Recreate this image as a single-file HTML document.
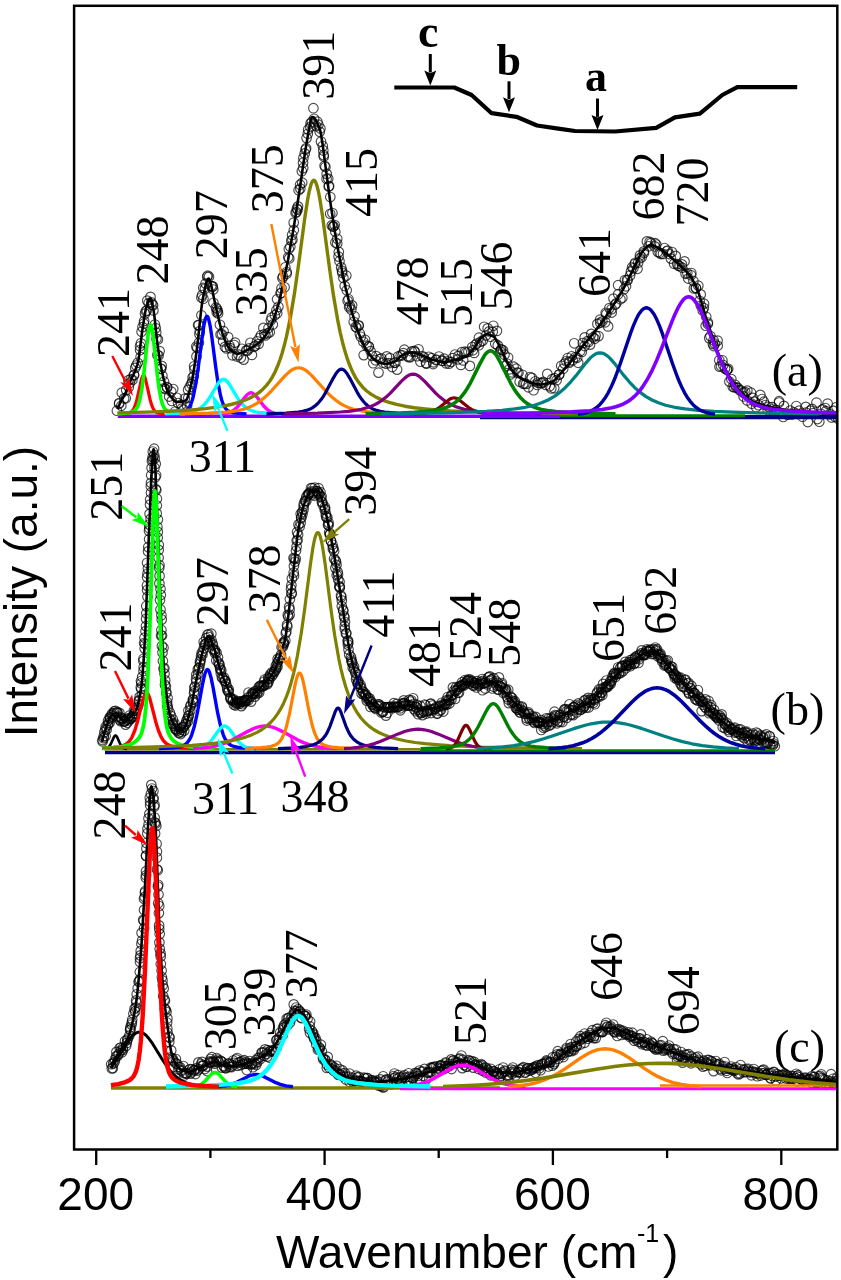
<!DOCTYPE html>
<html><head><meta charset="utf-8"><style>
html,body{margin:0;padding:0;background:#fff;}
svg{display:block;filter:blur(0.45px);}
.t{font-family:"Liberation Serif",serif;font-size:46px;fill:#000;}
.s{font-family:"Liberation Sans",sans-serif;fill:#000;}
</style></head><body>
<svg width="841" height="1280" viewBox="0 0 841 1280">
<rect width="841" height="1280" fill="#fff"/>
<defs><marker id="m" markerUnits="userSpaceOnUse" markerWidth="12" markerHeight="12" refX="6" refY="6" overflow="visible"><circle cx="6" cy="6" r="4.8" fill="none" stroke="#000" stroke-opacity="0.7" stroke-width="1.15"/></marker><clipPath id="cp"><rect x="75" y="7" width="761.5" height="1141"/></clipPath></defs>

<g clip-path="url(#cp)" fill="none" stroke-linejoin="round">
<polyline stroke="none" marker-start="url(#m)" marker-mid="url(#m)" marker-end="url(#m)" points="116.9,410.7 119.1,403.8 119.2,403.0 121.3,405.8 121.8,392.7 124.1,398.4 125.8,398.3 126.2,390.1 128.8,387.2 128.3,380.3 129.8,383.0 130.8,379.1 132.4,379.9 134.1,375.3 133.9,374.8 135.2,367.9 136.3,365.5 137.7,362.8 140.6,357.0 140.0,346.3 140.1,350.0 140.9,343.3 141.6,331.7 142.5,327.1 143.9,323.5 144.1,321.0 145.0,313.6 145.8,311.2 146.8,310.5 147.3,300.6 148.7,303.0 150.5,296.9 151.4,302.4 152.3,304.7 153.1,305.2 153.4,310.5 154.9,324.5 155.7,328.1 156.2,332.6 156.5,338.8 157.9,339.4 157.4,354.9 158.6,355.5 159.6,351.1 161.2,368.8 160.8,368.8 161.7,365.9 162.4,375.8 164.0,381.5 164.4,388.1 165.1,389.0 167.2,387.2 166.9,387.5 169.2,396.5 171.2,391.6 171.8,400.9 173.2,389.0 175.2,411.5 176.9,397.8 178.0,403.0 181.2,404.6 181.8,408.6 183.5,409.6 184.9,398.6 187.1,405.8 188.3,397.9 188.1,389.9 189.7,386.9 191.3,383.9 192.3,381.7 192.6,377.5 193.8,376.1 194.1,366.3 194.4,369.4 196.5,356.4 196.3,346.6 197.3,347.9 198.9,342.7 198.1,325.1 199.8,331.1 198.8,325.1 199.4,334.1 201.4,315.3 201.4,297.5 202.1,295.0 203.3,287.9 203.4,298.7 205.6,283.6 204.9,288.8 207.2,276.8 207.7,275.7 209.0,276.7 211.3,286.1 212.7,286.4 212.5,286.7 213.3,289.5 213.4,302.8 215.9,307.6 216.8,308.8 216.7,312.1 217.8,310.9 218.1,313.4 219.9,324.8 220.6,334.4 221.9,334.2 223.6,331.2 223.1,341.4 224.9,346.9 226.6,348.4 228.1,337.1 229.4,345.5 230.2,348.1 232.5,355.3 234.2,345.0 235.1,342.6 237.0,356.4 238.5,354.7 240.8,357.7 241.9,348.8 243.6,359.6 246.2,350.4 247.4,350.6 249.1,348.4 250.4,342.8 251.9,354.9 254.1,346.8 255.3,345.6 257.1,341.3 258.6,344.0 259.6,338.0 261.0,335.3 263.4,327.9 264.3,334.1 265.5,335.4 267.8,333.3 268.5,328.0 269.8,332.3 270.9,320.3 271.7,317.6 272.8,324.5 274.8,315.3 276.4,310.2 277.2,313.3 277.1,299.3 278.4,306.8 280.5,293.3 281.3,293.0 281.5,288.2 282.4,278.3 283.0,276.6 284.6,287.3 286.7,272.0 285.3,267.3 286.6,273.8 288.2,257.2 289.2,258.4 288.8,249.0 290.3,246.7 291.3,240.6 292.1,235.0 292.4,239.8 293.8,230.2 293.7,222.6 295.6,212.8 296.5,212.1 296.9,208.5 297.6,209.6 298.0,206.4 298.6,190.2 300.1,184.7 300.3,188.6 301.8,171.3 302.2,182.7 303.2,168.1 303.0,162.7 303.4,157.9 304.7,153.4 306.1,148.3 305.6,149.5 306.6,138.1 307.8,133.8 308.2,129.5 310.6,123.4 310.3,126.9 311.8,121.7 313.4,108.2 314.1,118.8 316.2,126.1 317.4,121.7 318.4,124.7 319.7,131.8 320.4,128.5 321.0,141.6 322.8,146.0 323.3,150.4 323.6,155.0 323.8,156.5 324.6,165.8 325.4,167.0 326.6,178.9 326.7,173.9 328.2,178.6 328.7,186.4 329.1,186.1 330.3,197.0 330.2,213.8 331.8,225.4 332.4,213.0 333.0,226.7 333.6,226.3 334.7,225.1 335.3,231.7 335.4,242.5 337.2,243.5 337.2,238.8 338.8,251.9 338.6,256.6 339.5,261.2 341.2,267.4 342.1,270.9 342.2,272.8 343.4,277.9 344.7,286.0 346.3,275.6 346.7,290.3 348.5,299.3 347.6,300.8 349.1,307.3 349.9,306.0 351.3,309.7 352.1,305.4 353.7,321.8 354.5,316.3 355.7,326.8 356.6,327.5 358.5,325.8 358.7,325.4 359.8,333.6 360.8,336.8 363.4,341.8 363.7,355.1 365.0,339.8 366.6,345.6 368.6,346.3 368.9,346.7 370.6,351.2 372.0,355.8 373.2,363.2 375.6,360.3 376.2,356.1 378.5,372.6 379.8,359.1 381.4,358.3 383.0,362.7 386.0,363.7 386.8,356.4 388.9,363.2 389.9,358.1 392.2,367.0 394.3,362.8 395.4,362.6 397.1,369.6 398.0,356.5 400.7,355.4 402.4,355.3 403.4,353.1 404.3,349.7 407.8,356.3 408.7,357.2 410.4,357.1 411.8,351.4 414.2,350.9 414.8,351.9 416.9,356.2 418.5,349.3 420.4,361.7 422.2,356.1 424.0,357.4 426.1,363.0 426.4,363.6 428.9,356.8 431.7,358.2 433.2,364.0 433.4,362.3 436.0,360.0 436.2,359.5 439.0,356.5 441.8,360.7 442.4,360.7 444.0,358.6 446.2,363.4 447.7,361.3 449.0,363.7 451.1,361.9 452.7,358.1 455.0,354.5 457.9,359.4 458.4,355.9 460.9,364.9 461.9,352.0 463.2,360.4 464.9,351.6 466.2,352.5 468.4,351.8 469.9,365.9 472.2,347.0 472.9,350.3 474.1,352.9 475.4,344.7 476.8,343.5 478.9,345.2 478.9,337.7 480.7,341.7 482.7,340.7 484.1,326.8 485.9,335.5 487.7,328.4 489.2,331.4 490.6,336.7 492.7,331.9 493.3,325.8 495.3,343.8 496.9,330.9 497.8,345.4 500.3,351.4 500.9,349.7 501.4,349.3 503.0,350.3 504.5,354.7 505.9,365.7 507.3,363.8 508.1,357.6 509.4,369.3 510.4,374.5 512.2,372.4 513.6,366.7 516.3,368.7 517.3,372.7 518.5,372.8 519.7,381.7 522.5,374.8 523.2,383.8 524.5,383.6 526.1,383.9 528.4,387.3 530.0,377.0 531.9,377.9 533.6,390.2 535.3,381.3 537.3,384.9 537.9,382.8 541.0,383.1 542.2,382.9 543.1,381.9 545.8,384.9 547.3,373.9 549.7,386.3 551.3,388.4 552.2,379.1 554.2,388.2 554.7,378.2 556.6,380.2 559.1,374.6 559.2,374.5 561.2,365.8 563.2,368.8 564.6,363.6 566.2,361.3 567.7,358.0 569.3,362.7 569.3,361.5 571.7,356.3 572.7,360.2 574.2,343.3 575.5,357.1 577.2,357.8 578.2,362.8 580.3,350.9 581.8,351.9 582.8,343.0 584.7,346.0 584.7,337.4 587.3,341.2 588.7,342.0 590.1,344.6 591.2,333.9 593.1,337.3 594.7,338.8 595.5,335.6 597.4,323.9 598.5,336.1 600.3,322.7 600.2,319.6 602.4,321.3 605.3,322.3 605.7,312.8 606.4,314.0 608.1,326.4 609.4,308.1 611.6,309.1 611.7,312.5 613.5,298.6 615.2,304.7 616.2,303.4 618.2,294.2 618.1,285.2 620.4,299.3 622.3,297.7 624.0,289.3 624.9,280.0 626.0,286.3 627.0,280.0 627.7,280.2 630.1,275.4 631.0,271.4 632.1,267.3 633.4,268.3 634.7,264.0 635.2,262.8 637.5,268.8 638.1,262.7 639.9,258.2 640.0,255.4 641.7,257.2 644.0,253.0 643.8,251.4 646.9,241.4 648.6,246.3 649.7,241.9 651.0,243.1 654.8,246.4 655.1,243.2 656.3,244.5 657.8,251.9 659.7,252.8 660.8,254.0 663.0,253.9 664.5,248.0 666.7,251.3 667.6,250.5 669.3,254.0 670.9,258.6 672.0,252.0 674.1,263.8 675.7,255.9 677.2,264.1 678.5,265.7 679.7,266.2 681.9,264.4 682.2,267.7 684.5,261.4 685.6,273.8 687.3,273.1 688.2,278.5 691.1,275.3 691.3,273.0 693.4,281.0 693.9,288.4 695.9,288.3 695.9,287.8 698.3,285.7 699.6,300.8 700.7,294.4 700.8,305.5 702.7,310.4 703.8,308.0 704.0,303.7 705.7,325.7 706.2,316.8 707.8,324.0 707.9,322.5 709.2,338.1 710.4,336.1 712.9,344.0 713.7,346.0 713.5,340.3 714.8,343.7 717.6,340.6 717.7,345.8 719.3,360.2 719.5,366.7 721.0,366.0 722.4,360.3 723.3,365.0 725.0,368.6 727.1,369.6 727.0,369.7 728.2,368.8 729.4,381.6 731.3,379.0 732.8,386.7 734.3,387.4 735.1,384.8 736.4,387.4 737.8,387.9 739.6,390.2 741.0,390.5 743.3,392.6 743.6,396.4 745.2,392.1 747.3,390.6 747.2,400.5 751.0,392.7 751.7,403.7 752.8,397.9 754.8,401.7 756.1,407.3 758.7,405.2 760.3,394.9 762.1,399.0 763.9,401.7 765.4,405.0 767.7,409.9 768.6,406.8 771.6,409.5 772.2,407.1 774.2,412.3 776.1,410.1 779.0,402.5 779.1,401.2 780.6,413.2 783.2,416.9 783.9,405.9 787.3,414.7 788.8,414.2 790.2,410.5 792.0,414.5 793.7,412.4 796.3,406.0 797.0,413.8 799.0,410.7 802.0,413.5 802.5,416.7 805.8,406.9 806.0,412.6 807.8,422.0 810.2,410.6 812.0,408.9 813.2,413.1 816.5,402.6 817.4,419.0 819.3,421.7 821.0,413.8 822.5,409.4 825.2,408.0 826.1,411.1 827.6,403.6 829.6,414.3 831.6,417.5 833.3,410.9 835.3,416.9 836.5,407.1 838.2,418.7"/>
<path d="M117.5 409.0 120.5 402.0 124.7 394.6 126.3 391.3 130.9 379.6 133.9 373.6 135.3 370.3 137.3 364.6 138.3 360.6 139.1 355.9 142.3 330.4 145.1 312.8 146.1 308.1 147.7 302.7 148.7 300.0 149.7 298.6 150.1 298.5 150.5 298.8 151.3 300.6 152.3 304.4 153.7 311.0 154.7 318.6 156.9 339.7 158.5 351.5 160.7 365.1 163.5 378.7 166.3 387.7 167.7 391.3 168.9 393.8 170.1 395.7 173.1 399.5 174.7 401.0 176.3 401.9 178.3 402.0 181.3 401.7 184.5 400.9 186.1 400.3 186.9 399.1 187.7 397.2 189.9 389.7 192.5 378.6 195.3 360.8 197.7 342.9 200.9 312.3 202.3 301.3 205.7 284.8 206.9 280.8 207.5 279.5 208.1 278.8 208.7 278.6 209.5 279.6 210.9 283.7 215.1 303.6 220.1 325.0 222.1 332.4 224.5 339.1 226.5 344.0 228.3 347.5 229.9 349.5 233.5 352.3 234.9 353.1 236.3 353.6 237.5 353.8 238.9 353.6 242.3 352.5 250.9 348.2 253.9 346.4 256.9 344.2 259.7 341.9 262.3 339.3 264.7 336.5 266.9 333.4 268.9 330.1 271.1 325.5 273.3 320.0 275.7 313.1 279.1 301.8 282.9 285.1 288.1 259.4 293.5 229.1 300.1 186.8 304.9 153.1 308.9 129.4 310.9 119.9 311.7 117.8 312.1 117.2 312.5 117.0 313.5 117.3 314.5 118.2 316.5 121.3 319.5 128.6 320.3 131.0 320.9 133.6 322.5 143.7 329.9 199.3 334.7 230.7 337.9 248.9 343.1 276.0 345.5 287.2 348.5 299.4 352.7 314.7 355.7 324.7 359.1 334.3 362.3 342.2 364.9 347.3 369.9 355.0 373.1 358.6 374.5 359.7 376.1 360.6 379.9 362.6 383.1 363.6 386.1 363.7 389.7 363.2 393.1 362.2 395.7 361.1 396.9 360.1 399.9 356.7 401.5 355.6 404.9 354.0 407.5 353.1 409.9 352.6 412.1 352.4 414.3 352.6 416.7 353.3 424.3 356.2 431.7 359.4 438.5 361.3 441.5 361.9 444.1 362.1 446.7 361.9 449.7 361.3 461.5 358.3 464.7 357.1 466.9 355.9 469.9 353.2 474.3 348.1 478.9 340.6 480.3 338.8 483.1 336.2 484.9 334.9 486.3 334.3 487.9 334.3 490.3 334.9 493.1 336.2 494.1 336.9 495.3 338.3 497.7 342.5 503.5 354.4 507.5 363.1 509.5 366.8 511.1 369.2 513.5 372.0 515.7 374.3 518.1 376.3 522.5 379.2 526.7 381.3 529.7 382.4 536.5 384.1 539.9 384.5 543.3 384.3 547.1 383.6 551.5 382.3 553.3 381.2 555.3 379.4 566.7 366.7 572.7 359.2 581.7 347.1 592.5 334.5 601.1 323.2 606.1 316.2 611.3 308.3 618.1 297.6 622.9 289.6 627.3 281.4 639.5 256.4 641.5 252.8 642.5 251.4 644.7 249.0 647.5 246.4 649.5 245.2 650.5 245.0 651.5 245.0 654.1 245.7 657.3 247.4 663.1 251.0 668.5 255.2 676.7 262.2 685.5 270.7 689.1 274.7 691.9 278.6 695.3 285.0 698.7 293.2 700.5 298.9 704.7 313.6 709.7 329.0 717.1 350.4 721.3 360.8 724.3 367.2 727.1 372.7 733.1 382.7 735.7 386.4 738.1 389.5 744.1 395.5 746.9 397.9 749.5 399.7 752.5 401.3 756.3 402.9 760.3 404.4 764.9 405.8 776.3 408.4 787.1 410.1 800.9 411.6 823.3 413.3 839.9 414.0" stroke="#000" stroke-width="2.6"/>
<path d="M480.0 418.0H840.0" stroke="#000080" stroke-width="2.5"/>
<path d="M117.8 416.3H560.0" stroke="#8000FF" stroke-width="3.5"/>
<path d="M560.0 415.8H745.0" stroke="#008000" stroke-width="3.0"/>
<path d="M745.0 416.3H840.0" stroke="#000080" stroke-width="2.5"/>
<path d="M122.5 414.0 127.1 413.5 129.9 412.7 131.9 411.4 133.7 408.9 135.3 405.2 136.7 400.5 141.5 379.1 142.5 376.3 143.1 375.5 143.5 375.3 143.9 375.5 144.5 376.3 145.5 379.1 150.3 400.5 151.7 405.2 153.3 408.9 155.1 411.4 157.1 412.7 159.9 413.5 164.5 414.0" stroke="#FF0000" stroke-width="3.2"/>
<path d="M117.5 413.9 127.1 413.0 130.3 412.4 132.7 411.6 134.5 410.6 135.9 409.2 137.1 407.4 138.3 404.7 140.1 398.4 141.9 388.5 143.7 374.7 148.1 334.4 149.3 327.3 149.9 325.4 150.5 324.8 151.1 325.4 151.7 327.3 152.9 334.4 157.3 374.7 159.1 388.5 160.9 398.4 161.9 402.3 162.9 405.2 164.1 407.7 165.3 409.4 166.9 410.8 168.7 411.8 171.3 412.5 174.7 413.1 184.9 413.9" stroke="#00FF00" stroke-width="3.6"/>
<path d="M167.5 413.9 178.7 413.1 181.9 412.6 184.3 411.8 186.3 410.7 188.1 408.9 189.5 406.9 190.9 404.0 192.3 400.0 193.5 395.5 195.9 383.4 198.1 368.5 202.3 336.0 204.1 324.5 204.9 320.7 205.7 318.0 206.5 316.6 207.1 316.3 207.7 316.8 208.5 318.6 210.1 325.6 211.7 336.0 215.9 368.5 218.1 383.4 220.5 395.5 221.7 400.0 223.1 404.0 224.5 406.9 225.9 408.9 227.7 410.7 229.7 411.8 232.1 412.6 235.3 413.1 246.5 413.9" stroke="#0000FF" stroke-width="3.4"/>
<path d="M165.5 413.9 179.3 413.3 188.1 412.4 191.5 411.8 194.3 411.0 196.9 410.0 199.1 408.8 201.1 407.4 203.1 405.7 205.1 403.7 207.1 401.2 210.1 396.9 216.7 385.8 219.3 382.0 221.5 379.9 222.5 379.5 223.5 379.3 224.5 379.5 225.5 379.9 227.7 382.0 230.3 385.8 236.9 396.9 239.9 401.2 241.9 403.7 243.9 405.7 245.9 407.4 247.9 408.8 250.1 410.0 252.7 411.0 255.5 411.8 258.9 412.4 267.7 413.3 281.5 413.9" stroke="#00FFFF" stroke-width="3.4"/>
<path d="M222.0 414.1 225.8 413.6 228.8 412.9 231.4 411.8 233.8 410.3 236.0 408.4 238.2 406.0 244.6 397.6 246.6 395.3 248.8 393.5 250.0 392.9 251.0 392.8 252.0 392.9 253.2 393.5 255.4 395.3 257.4 397.6 263.8 406.0 266.0 408.4 268.2 410.3 270.6 411.8 273.2 412.9 276.2 413.6 280.0 414.1" stroke="#FF00FF" stroke-width="3.4"/>
<path d="M179.5 413.8 208.7 413.2 226.3 412.2 232.9 411.4 238.5 410.5 243.5 409.3 248.1 407.7 252.3 405.9 256.5 403.6 260.5 400.8 264.5 397.6 267.9 394.4 271.5 390.8 284.7 376.1 289.5 371.6 291.9 369.9 294.1 368.8 296.3 368.0 298.5 367.8 300.7 368.0 302.9 368.8 305.1 369.9 307.5 371.6 312.3 376.1 325.5 390.8 329.1 394.4 332.5 397.6 336.5 400.8 340.5 403.6 344.7 405.9 348.9 407.7 353.5 409.3 358.5 410.5 364.1 411.4 370.7 412.2 388.3 413.2 417.5 413.8" stroke="#FF8000" stroke-width="3.2"/>
<path d="M117.5 412.9 154.7 411.9 183.3 410.5 195.1 409.6 205.5 408.6 214.9 407.4 223.3 406.1 230.9 404.5 237.9 402.6 244.1 400.5 249.5 398.2 254.5 395.5 258.9 392.6 262.9 389.2 266.5 385.4 269.5 381.5 272.3 377.1 274.9 372.2 277.5 366.3 279.9 360.0 282.1 353.2 284.3 345.3 286.5 336.4 290.5 316.9 294.3 294.4 297.9 269.6 304.9 217.3 307.7 199.2 309.3 191.0 310.9 184.8 311.7 182.7 312.5 181.2 313.3 180.4 313.9 180.3 314.5 180.6 315.3 181.5 316.7 184.8 318.3 191.0 319.9 199.2 322.7 217.3 329.9 271.0 333.7 296.9 338.1 322.2 340.3 332.8 342.5 342.2 344.9 351.1 347.5 359.4 350.1 366.3 352.9 372.6 355.9 378.1 359.1 382.9 362.7 387.2 366.7 391.0 371.3 394.4 376.5 397.4 382.5 400.1 389.1 402.4 396.5 404.4 404.9 406.2 414.3 407.7 425.1 408.9 436.9 410.0 450.5 410.9 483.9 412.2 528.5 413.2 589.9 413.8" stroke="#808000" stroke-width="3.4"/>
<path d="M266.5 413.9 285.9 413.1 298.3 412.1 302.7 411.4 306.3 410.4 309.5 409.3 312.3 407.8 314.7 406.2 316.9 404.3 319.1 402.0 321.1 399.6 323.5 396.1 325.9 392.1 333.3 378.1 335.9 373.7 337.5 371.6 338.9 370.2 340.3 369.3 341.5 369.1 342.7 369.3 344.1 370.2 345.5 371.6 347.1 373.7 349.7 378.1 357.1 392.1 359.5 396.1 361.9 399.6 363.9 402.0 366.1 404.3 368.3 406.2 370.7 407.8 373.5 409.3 376.7 410.4 380.3 411.4 384.7 412.1 397.1 413.1 416.5 413.9" stroke="#000080" stroke-width="3.2"/>
<path d="M284.5 413.8 317.5 413.1 340.3 412.0 348.5 411.3 355.5 410.3 361.5 409.2 366.7 407.8 370.9 406.4 374.9 404.6 378.7 402.5 382.3 400.1 386.1 397.1 390.1 393.4 401.5 381.2 405.3 377.6 407.3 376.1 409.3 375.0 411.3 374.3 413.1 374.1 414.9 374.3 416.9 375.1 418.9 376.2 420.9 377.8 424.5 381.2 435.9 393.4 439.9 397.1 443.7 400.1 447.3 402.5 451.1 404.6 455.1 406.4 459.3 407.8 464.5 409.2 470.5 410.3 477.5 411.3 485.7 412.0 508.5 413.1 541.5 413.8" stroke="#800080" stroke-width="3.2"/>
<path d="M415.0 413.9 421.2 413.5 425.8 413.0 429.8 412.1 433.2 411.0 436.4 409.4 439.4 407.5 449.6 399.3 451.8 398.2 454.0 397.8 456.2 398.2 458.4 399.3 468.6 407.5 471.6 409.4 474.8 411.0 478.2 412.1 482.2 413.0 486.8 413.5 493.0 413.9" stroke="#800000" stroke-width="3.2"/>
<path d="M365.5 413.8 401.3 413.0 414.5 412.3 425.1 411.5 433.3 410.5 439.7 409.4 445.1 407.8 449.9 405.8 453.7 403.6 457.3 400.8 460.7 397.4 463.9 393.4 467.1 388.7 470.5 382.8 480.5 362.6 483.7 356.8 485.5 354.1 487.3 352.2 488.9 351.2 490.5 350.8 492.1 351.2 493.7 352.2 495.5 354.1 497.3 356.8 500.5 362.6 510.5 382.8 513.9 388.7 517.1 393.4 520.3 397.4 523.7 400.8 527.3 403.6 531.1 405.8 535.9 407.8 541.3 409.4 547.7 410.5 555.9 411.5 566.5 412.3 579.7 413.0 615.5 413.8" stroke="#008000" stroke-width="3.6"/>
<path d="M381.0 413.8 444.2 412.9 467.2 412.2 486.2 411.4 502.0 410.3 514.8 408.9 525.4 407.3 534.4 405.2 541.6 402.8 548.0 400.0 554.0 396.6 559.8 392.4 565.2 387.7 570.8 381.8 575.8 375.9 585.8 363.1 590.4 357.9 593.0 355.6 595.4 354.1 597.8 353.1 600.0 352.8 602.2 353.1 604.6 354.1 607.0 355.6 609.6 357.9 614.2 363.1 624.2 375.9 629.2 381.8 634.8 387.7 640.2 392.4 646.0 396.6 652.0 400.0 658.4 402.8 665.6 405.2 674.6 407.3 685.2 408.9 698.0 410.3 713.8 411.4 732.8 412.2 755.8 412.9 819.0 413.8" stroke="#008080" stroke-width="3.2"/>
<path d="M578.0 414.1 582.8 413.5 586.8 412.5 590.4 411.2 593.8 409.5 597.0 407.2 600.0 404.4 602.8 401.1 605.6 397.2 608.2 392.8 610.6 388.1 613.0 382.8 615.6 376.5 620.2 363.9 630.6 333.1 633.4 325.7 635.8 320.1 638.6 314.6 641.2 310.9 642.6 309.5 643.8 308.6 645.2 308.0 646.4 307.8 647.6 308.0 649.0 308.6 650.2 309.5 651.6 310.9 654.2 314.6 657.0 320.1 659.4 325.7 662.2 333.1 672.6 363.9 677.2 376.5 679.8 382.8 682.2 388.1 684.6 392.8 687.2 397.2 690.0 401.1 692.8 404.4 695.8 407.2 699.0 409.5 702.4 411.2 706.0 412.5 710.2 413.5 715.0 414.1" stroke="#0000A0" stroke-width="3.4"/>
<path d="M482.0 413.8 519.2 413.4 548.4 412.7 571.6 411.9 589.6 410.8 602.2 409.5 611.8 407.8 615.8 406.8 619.6 405.5 623.0 404.1 626.2 402.4 629.0 400.7 631.8 398.6 634.4 396.4 637.0 393.8 639.6 390.8 642.0 387.7 646.8 380.3 651.6 371.4 656.6 360.5 661.6 348.3 672.2 320.9 675.0 314.2 677.6 308.7 680.6 303.3 683.4 299.6 684.8 298.3 686.0 297.5 687.4 297.0 688.6 296.8 689.8 297.0 691.2 297.5 692.6 298.5 694.0 299.9 696.8 303.7 699.8 309.1 702.2 314.2 705.0 320.9 715.4 347.8 720.0 359.1 724.6 369.4 729.2 378.2 733.2 384.8 737.4 390.5 741.6 395.2 746.0 399.1 748.6 400.9 751.4 402.6 754.4 404.2 757.6 405.5 764.6 407.6 773.2 409.2 784.2 410.5 798.6 411.5 817.2 412.4 840.0 413.0" stroke="#8000FF" stroke-width="3.6"/>
<polyline stroke="none" marker-start="url(#m)" marker-mid="url(#m)" marker-end="url(#m)" points="102.5,740.0 102.6,741.4 103.8,736.1 103.6,738.1 105.6,736.2 104.4,732.1 105.4,729.2 105.8,726.6 106.7,729.4 107.7,724.9 108.0,720.8 108.4,723.1 109.6,723.0 110.0,717.6 109.7,717.4 110.3,718.9 111.6,715.2 111.9,713.7 112.9,716.4 114.2,711.3 113.9,713.2 115.4,710.9 116.6,712.6 117.2,712.1 117.5,713.1 117.7,716.5 119.4,712.9 119.9,719.9 120.6,721.1 121.1,719.1 121.3,717.8 121.8,718.2 123.6,721.4 124.8,720.9 124.5,721.7 125.6,724.6 127.4,722.8 126.6,719.5 128.0,718.4 128.9,720.4 129.7,718.6 129.6,715.5 130.6,719.0 132.2,717.5 132.3,716.2 133.2,716.8 133.9,710.5 134.7,713.6 134.7,713.0 135.7,710.8 135.4,709.9 137.2,708.1 136.7,707.3 138.5,704.6 138.9,701.2 138.9,700.4 139.6,696.9 141.9,695.1 140.8,687.4 141.3,688.9 141.3,683.3 141.0,681.1 142.2,676.9 143.5,670.9 143.7,667.1 143.4,661.0 143.5,658.8 144.7,648.6 145.0,644.2 144.1,643.0 144.5,637.7 145.5,631.2 146.0,626.1 146.1,618.8 146.3,613.2 146.3,606.1 147.5,596.8 147.1,590.0 147.0,585.6 147.1,577.3 147.5,573.5 147.9,568.6 147.1,562.8 148.1,551.4 148.3,547.1 149.1,539.2 149.0,530.9 149.3,528.3 149.2,524.6 150.6,518.9 149.6,513.9 150.0,504.6 150.2,499.5 151.0,492.8 150.8,486.3 151.0,482.8 151.2,475.2 151.6,467.9 151.9,461.0 152.6,459.5 152.6,457.1 152.8,451.5 154.1,448.7 154.2,455.2 154.7,458.4 155.7,463.9 154.5,467.7 156.1,475.3 155.4,477.3 156.3,490.2 155.8,489.1 156.9,498.7 156.8,505.5 156.7,513.4 157.9,519.5 157.4,527.0 157.8,531.9 157.7,537.7 158.8,545.1 158.7,549.9 158.6,557.7 159.5,565.2 159.2,567.9 159.6,575.9 159.4,583.4 160.5,589.0 160.8,594.9 160.0,600.1 160.5,609.6 161.4,615.2 161.7,619.6 161.4,630.1 162.0,635.5 161.1,635.6 161.9,646.0 163.5,647.8 162.5,652.6 162.9,661.0 163.5,668.6 164.4,668.2 164.5,673.7 165.2,680.4 165.0,684.7 165.9,686.6 166.2,692.1 166.3,693.2 167.6,698.1 167.1,702.3 167.2,704.9 167.7,707.0 168.1,709.3 169.9,712.8 169.5,718.7 170.4,720.0 171.0,715.9 172.9,719.6 173.0,724.3 172.6,723.4 173.6,725.7 174.5,723.3 175.2,728.5 175.7,729.4 176.2,729.4 177.4,730.8 178.6,732.9 179.1,732.4 179.5,728.5 180.7,734.0 181.1,729.8 181.7,732.2 182.6,727.5 183.1,727.4 183.8,726.6 184.2,730.6 185.8,723.5 185.5,724.4 186.4,720.9 187.6,718.6 188.1,721.1 188.2,716.2 188.9,715.6 188.4,710.6 190.3,710.6 190.4,706.6 190.8,704.8 193.0,701.6 193.0,702.6 192.9,699.5 193.1,699.5 194.1,693.4 194.3,691.2 194.3,687.5 195.0,686.6 196.1,679.1 196.3,681.8 196.3,674.8 198.0,674.2 197.8,669.5 198.7,668.2 199.3,667.5 200.0,663.5 200.0,661.6 200.8,659.4 201.1,656.2 201.6,653.3 202.5,654.5 202.8,651.2 203.8,648.2 204.6,644.7 205.1,644.2 203.7,642.1 206.3,643.3 206.2,638.0 207.5,634.7 208.7,637.1 208.5,634.3 209.3,642.1 211.3,633.7 210.0,641.2 211.5,640.2 212.4,643.3 212.9,645.2 212.8,648.9 213.8,650.2 214.9,649.8 215.3,651.5 214.9,653.1 216.6,652.9 216.3,660.4 218.0,657.5 218.4,662.6 219.3,664.1 219.3,665.1 220.1,668.1 220.3,669.5 220.8,673.2 221.3,670.6 221.9,677.4 222.8,678.2 224.0,677.6 224.7,681.3 224.9,680.5 225.6,681.0 226.1,683.9 227.1,687.2 227.2,689.7 228.8,689.6 228.5,691.9 228.3,691.1 230.4,697.5 230.4,697.9 232.6,699.9 230.9,699.6 232.8,700.8 233.3,699.1 233.9,704.7 235.1,702.3 235.6,705.5 236.4,703.9 236.6,702.5 237.4,702.9 237.6,701.1 239.6,701.6 239.3,703.6 241.4,706.1 241.2,701.5 241.9,701.6 242.6,704.2 243.1,701.4 244.3,702.4 244.8,700.4 245.3,699.9 246.8,700.3 245.7,701.3 247.9,697.6 248.5,692.6 248.5,700.3 251.1,701.6 250.4,696.7 251.8,693.6 253.0,694.0 253.0,692.6 253.7,694.2 254.8,691.3 254.9,696.6 255.1,693.1 256.6,690.7 256.9,693.9 258.3,691.5 258.6,687.5 259.2,692.6 260.4,685.6 259.5,686.3 261.3,685.8 261.8,686.9 263.1,685.9 264.0,681.8 264.3,684.8 264.0,685.7 264.7,679.5 267.5,684.2 267.0,683.5 268.1,677.7 268.5,681.9 268.9,678.5 269.4,679.1 270.1,675.6 270.4,674.1 271.9,676.1 272.3,672.1 273.3,673.9 274.5,671.0 274.3,671.9 275.9,669.4 275.8,666.0 276.3,668.0 277.5,666.7 276.8,664.4 277.8,662.1 277.7,658.9 279.0,659.7 280.1,657.8 280.4,657.1 281.0,654.9 281.6,647.3 282.9,646.8 283.1,643.3 283.6,644.5 284.0,643.2 283.8,642.0 285.3,640.6 285.8,633.3 286.3,631.7 287.3,626.8 287.0,624.9 288.3,616.6 287.8,614.9 289.6,614.8 289.6,609.4 289.1,606.9 289.9,599.2 291.5,593.9 291.7,593.1 291.0,588.9 291.4,585.2 291.9,578.6 294.0,575.8 293.7,572.6 293.9,566.1 293.5,558.1 295.0,561.8 294.4,558.6 295.7,558.8 296.0,550.8 296.6,546.6 296.7,540.5 297.6,540.2 297.1,532.1 298.1,534.7 298.5,524.6 299.6,526.8 300.6,522.9 301.2,518.3 301.2,517.3 300.7,513.9 302.5,514.3 302.2,512.1 303.5,509.5 303.7,506.3 303.8,503.9 304.9,500.8 305.4,501.0 306.3,501.2 306.3,496.7 307.6,495.3 308.3,493.9 309.3,493.2 308.9,494.2 311.0,488.1 310.8,491.7 312.2,494.4 312.3,488.0 313.5,493.0 314.1,491.0 314.2,495.6 314.8,487.5 316.6,491.1 317.2,491.2 318.5,493.3 318.1,492.7 318.5,488.1 320.4,492.0 319.3,494.5 320.7,497.3 321.6,496.6 321.8,501.7 322.3,502.4 322.9,504.9 324.9,507.1 325.2,509.0 324.7,509.8 325.8,513.5 326.0,516.2 326.5,517.5 327.4,517.6 328.5,522.6 328.6,525.1 328.0,524.9 329.2,532.5 329.9,534.4 330.2,534.2 331.0,540.9 331.0,541.3 332.5,544.7 332.8,548.8 333.4,548.0 334.1,551.3 334.1,558.8 336.0,561.7 335.5,560.2 335.4,568.1 336.5,564.9 337.6,571.9 338.0,574.5 336.7,575.3 338.2,579.5 339.6,581.7 339.3,586.1 339.8,587.3 339.7,587.5 341.0,595.5 341.4,597.0 341.8,600.4 341.8,606.3 343.1,609.9 343.3,611.1 344.5,617.5 344.0,616.0 345.0,622.0 344.8,629.2 344.7,626.2 346.4,633.2 345.9,633.6 348.0,640.5 347.7,640.9 347.9,644.6 348.3,642.7 348.5,649.6 349.2,654.6 351.0,657.0 351.3,659.6 351.6,661.3 352.3,663.3 352.1,662.6 352.7,667.8 354.1,666.7 353.9,669.2 355.4,672.2 355.5,672.9 356.1,679.4 356.5,677.2 358.3,681.0 357.5,683.5 358.1,684.0 358.1,682.4 360.5,684.7 360.3,687.4 361.3,687.7 361.6,693.6 363.4,691.9 362.7,691.5 363.8,694.7 365.4,693.9 365.3,695.2 365.9,695.8 366.7,700.6 367.1,698.6 368.0,697.6 369.6,698.4 369.2,700.1 370.8,701.6 370.5,706.9 371.4,702.1 372.3,704.6 372.6,704.3 373.6,706.7 374.9,707.4 375.2,707.8 375.9,708.9 377.0,706.1 378.1,704.3 377.8,706.1 378.9,705.5 379.1,704.4 380.6,706.0 382.4,710.8 381.4,712.5 382.8,711.8 382.9,712.0 384.8,707.2 384.6,707.3 385.9,715.6 387.4,712.8 387.1,707.2 388.2,707.3 388.5,707.4 389.9,707.7 390.4,707.0 390.9,706.7 392.4,708.3 393.3,707.0 393.8,703.2 393.8,707.1 394.4,706.8 395.0,706.6 395.9,707.0 396.9,703.9 397.5,706.9 397.9,706.9 399.9,705.8 400.3,708.3 400.4,710.3 402.8,703.1 403.3,703.9 403.7,700.4 404.3,706.2 403.9,703.2 404.7,702.9 406.2,705.0 405.5,704.5 407.7,705.7 409.1,699.9 409.1,705.5 410.1,701.5 409.8,705.1 411.3,700.3 412.2,705.9 413.1,698.3 413.8,703.8 414.0,709.1 415.9,707.4 415.7,711.2 416.1,707.1 417.0,704.9 418.1,714.2 418.9,709.8 419.5,711.9 420.3,706.1 421.1,713.2 421.7,712.6 422.5,715.1 423.4,711.0 423.9,711.5 424.6,704.5 425.7,705.3 427.0,711.3 427.0,711.0 426.4,713.5 428.2,710.8 430.5,703.9 429.8,709.7 431.0,703.5 431.0,713.0 432.0,710.1 432.3,705.6 432.8,709.1 435.1,708.5 435.1,708.8 436.2,707.1 437.0,713.8 438.6,706.0 437.6,713.3 439.5,711.0 440.1,706.3 441.0,709.9 441.8,702.8 442.5,704.5 442.6,706.1 443.3,711.5 444.4,704.7 444.8,704.1 445.4,704.4 446.7,704.6 446.3,700.4 447.7,697.1 448.5,699.7 449.1,700.6 449.4,703.5 451.0,696.3 451.4,699.4 451.5,695.1 452.9,687.4 452.6,695.2 454.3,690.4 455.1,698.9 455.5,691.1 456.1,687.2 457.0,690.0 457.8,692.9 458.2,688.5 459.0,692.6 458.8,686.7 459.9,686.5 461.4,685.7 462.0,685.5 462.0,682.3 462.4,684.5 463.6,685.8 465.0,680.1 464.8,684.2 465.6,682.7 467.1,680.6 468.5,679.3 468.5,680.4 467.6,681.2 469.7,683.5 470.5,679.7 471.0,681.2 472.4,681.4 473.4,685.1 473.2,685.8 473.2,683.0 474.6,682.9 476.4,683.4 476.5,687.4 476.9,681.2 478.5,685.7 478.1,684.4 479.9,683.5 480.1,684.4 481.2,681.9 482.2,679.1 482.5,690.2 482.8,683.4 482.9,680.9 484.2,683.3 485.3,688.5 485.8,682.6 487.2,684.4 488.3,677.6 489.7,681.1 488.9,677.0 489.8,676.4 490.9,679.9 491.7,679.3 492.3,688.4 493.6,682.3 493.3,686.5 493.7,678.2 496.0,681.1 496.7,685.2 497.8,689.5 497.7,682.8 498.5,689.6 498.9,677.4 499.4,685.7 500.2,686.5 501.5,684.5 501.9,683.1 501.3,686.8 502.7,687.8 503.4,693.0 504.7,692.1 505.3,690.4 505.4,689.0 506.3,690.6 507.1,696.9 508.2,699.5 508.2,689.7 508.8,703.1 510.4,696.6 511.4,697.5 512.3,698.3 511.9,702.5 512.3,700.7 514.5,703.3 513.7,702.0 514.9,701.2 515.9,708.0 516.4,707.7 517.2,706.2 517.4,709.5 519.1,706.0 518.7,709.7 519.9,712.4 520.8,709.4 520.6,712.4 522.0,707.5 521.9,706.6 523.7,711.5 522.4,710.8 524.4,713.8 525.5,713.7 526.5,718.3 526.8,720.5 527.6,713.6 528.5,712.4 529.0,714.0 529.7,718.2 529.4,719.2 531.5,717.8 532.5,719.9 532.7,716.3 534.0,721.9 533.7,717.8 534.6,722.9 535.6,716.9 537.4,722.4 537.5,722.0 538.1,721.6 539.3,723.0 539.4,722.1 541.3,720.2 540.5,722.3 541.3,729.9 543.0,723.7 543.6,727.8 543.6,721.7 544.1,725.5 545.6,726.9 546.3,718.3 546.8,723.7 547.5,721.9 548.3,718.7 549.1,725.6 549.6,721.4 551.3,717.9 550.9,724.5 553.3,718.9 552.5,722.1 553.9,716.7 554.5,711.7 555.0,715.0 555.5,720.2 557.0,723.3 556.3,715.8 558.0,721.5 559.7,717.6 559.9,714.6 560.4,715.1 560.1,721.8 562.5,722.0 563.5,716.7 564.1,709.7 563.9,717.0 565.0,709.1 565.9,709.7 566.6,717.9 566.8,711.3 568.4,712.2 569.0,709.3 569.5,704.3 570.3,715.0 570.6,710.2 572.2,714.2 573.2,707.4 573.2,715.1 573.9,710.3 574.5,707.2 574.1,707.2 575.3,705.5 576.6,712.4 578.3,709.2 578.4,703.4 579.6,704.8 580.1,709.9 580.8,706.6 581.1,709.5 582.7,708.2 584.0,700.7 583.9,707.3 584.8,705.9 585.6,699.9 586.1,707.7 586.9,703.1 588.1,697.9 588.6,707.4 589.0,699.8 590.2,700.3 590.2,701.7 590.4,702.6 591.4,698.3 593.1,699.2 593.5,702.8 594.9,704.2 594.5,699.9 594.6,698.8 596.8,693.4 597.1,697.4 597.5,692.1 599.1,689.3 599.1,695.4 599.8,696.5 601.1,692.4 602.0,692.5 601.2,688.5 602.6,689.3 602.3,695.0 603.1,683.9 604.8,687.2 606.1,686.6 606.2,687.4 606.3,680.5 607.2,686.8 607.9,686.8 608.5,684.6 609.5,684.1 610.2,681.4 610.7,683.9 611.6,680.9 612.6,676.0 612.6,677.9 614.3,674.1 613.9,673.6 614.9,672.7 615.4,676.9 615.9,674.7 616.6,673.4 618.2,667.3 618.6,673.5 619.3,673.0 620.2,667.7 620.6,673.0 622.0,666.3 621.8,665.7 622.8,666.1 623.0,671.1 625.3,661.9 625.7,664.9 625.9,668.2 626.9,665.9 626.6,665.8 628.1,662.8 628.6,664.9 629.2,664.4 630.2,666.2 630.5,662.2 630.3,660.0 631.3,664.2 632.2,659.5 633.8,664.0 634.8,657.8 635.0,663.1 635.2,658.6 635.7,656.7 637.4,658.3 637.5,655.8 639.2,659.2 638.5,662.9 639.6,655.3 640.3,653.5 641.7,650.4 642.1,653.3 643.7,655.0 643.8,655.1 644.6,653.5 643.9,654.2 645.7,654.8 646.8,650.9 646.9,649.3 648.2,651.8 648.4,650.9 649.8,649.8 650.3,649.9 649.8,651.9 651.9,654.0 653.3,649.2 653.6,652.2 654.1,653.9 655.3,647.6 656.3,651.1 656.0,650.0 657.0,649.2 658.3,654.5 658.0,656.4 659.3,654.9 660.4,655.2 660.5,657.9 660.4,653.7 662.2,661.5 661.8,659.2 663.1,659.2 664.4,665.5 665.7,664.7 665.8,663.1 665.3,664.6 666.3,660.9 667.7,660.3 669.2,667.7 669.2,668.2 669.8,667.8 670.8,666.4 671.2,669.8 672.2,666.9 672.6,670.7 673.5,673.6 674.0,674.2 674.8,677.8 675.4,676.2 675.5,674.8 677.1,679.4 676.9,677.0 678.0,678.1 678.6,677.5 679.5,679.9 680.7,677.7 680.4,683.4 681.8,681.2 681.7,685.7 682.5,686.7 683.8,683.5 684.3,687.1 685.1,680.2 685.4,679.6 686.7,689.6 687.7,683.4 689.0,693.6 688.5,682.8 688.9,692.6 691.0,688.5 689.8,687.9 692.4,691.5 691.4,685.9 693.1,695.3 693.3,692.9 694.2,693.2 694.6,693.2 695.3,699.3 696.5,699.4 697.9,690.1 697.7,700.6 698.3,696.6 699.3,697.5 699.4,698.9 700.5,700.6 701.6,701.3 701.7,711.1 702.5,701.9 703.2,701.3 703.2,704.7 705.4,699.4 705.0,706.9 705.8,707.9 706.8,703.7 707.4,706.2 708.5,700.8 709.1,713.2 709.7,710.6 710.0,711.6 710.9,707.4 711.1,705.0 712.6,713.1 713.6,714.0 714.1,709.9 713.6,712.8 715.0,716.3 715.8,715.3 716.6,717.2 717.4,718.1 717.7,717.5 718.0,715.1 719.3,720.4 719.7,715.5 721.3,717.9 720.6,718.1 721.6,714.4 722.7,727.3 723.2,720.4 724.9,723.7 724.9,728.1 725.1,724.4 726.6,725.7 726.6,722.9 728.8,726.0 728.5,730.0 728.5,727.1 729.3,731.9 730.4,728.5 731.2,729.0 732.6,729.1 733.0,730.2 733.8,728.3 735.0,732.7 734.7,727.5 735.8,731.8 736.2,735.9 737.7,732.0 738.8,729.7 739.3,733.5 740.5,729.4 741.3,734.6 741.5,736.3 742.0,732.9 743.3,732.7 744.2,738.1 744.5,734.8 744.8,731.8 746.6,731.7 746.7,735.9 747.0,733.2 747.8,741.9 749.1,739.9 750.7,739.0 751.1,734.9 750.8,740.7 752.6,733.6 753.2,737.7 753.8,739.9 755.1,735.3 754.9,741.1 755.5,739.2 756.4,732.6 756.9,740.5 757.6,733.5 758.4,738.5 759.7,739.4 760.4,735.4 760.6,736.5 761.4,740.3 763.1,738.4 763.7,742.6 763.3,737.1 764.7,735.6 766.3,734.3 765.5,742.5 766.5,742.5 767.2,743.8 768.1,743.0 769.7,736.6 769.5,736.1 770.1,744.4 771.4,744.4 772.9,745.2 773.3,741.1 773.5,743.6 774.8,746.2"/>
<path d="M102.0 741.8 104.0 734.4 105.8 728.6 108.8 720.0 109.8 717.7 110.6 716.4 112.2 715.0 113.8 713.9 115.2 713.2 116.6 713.0 117.6 713.8 120.0 717.9 121.0 719.0 123.2 720.2 124.8 720.8 126.2 721.0 127.2 720.5 128.4 719.3 131.0 716.0 134.4 712.5 136.2 709.8 137.0 707.9 138.0 704.6 140.0 695.1 141.4 686.3 142.4 676.7 143.6 660.8 145.2 634.4 146.2 611.0 148.6 542.4 151.2 480.9 152.6 455.8 153.2 450.4 153.6 449.3 154.0 450.5 154.4 454.0 155.4 470.2 158.6 547.7 161.4 626.0 162.8 651.4 164.6 676.4 165.6 686.8 167.0 698.5 168.2 706.7 169.4 712.7 170.8 717.4 172.4 721.5 176.4 729.3 177.6 730.9 178.8 730.9 180.6 730.4 182.4 729.4 184.4 727.9 185.6 726.0 187.0 722.3 188.8 715.7 192.2 701.7 197.0 676.8 201.6 655.6 205.8 640.2 206.8 637.5 207.6 636.4 208.0 636.2 208.4 636.3 209.2 636.9 210.2 638.5 211.2 640.7 214.6 649.7 218.6 664.1 221.2 671.9 223.8 679.0 229.2 691.6 234.2 702.0 235.0 703.3 235.6 703.9 238.2 703.9 242.6 703.3 244.0 702.7 245.6 701.6 250.2 697.1 257.2 690.9 261.8 686.4 271.0 676.0 274.0 671.8 275.8 667.9 278.4 660.5 281.6 650.0 284.2 642.9 285.6 637.0 287.6 622.3 297.2 537.7 299.2 525.0 302.0 511.4 303.4 506.3 305.2 501.4 307.4 496.2 309.2 493.0 310.2 491.9 311.0 491.5 314.6 490.7 317.8 490.4 318.2 490.5 318.8 491.1 320.0 493.4 324.2 506.6 326.8 517.2 330.4 534.4 333.2 549.4 337.6 575.5 348.6 645.6 350.4 654.9 353.0 665.4 355.6 674.3 358.0 681.2 360.8 687.6 364.4 694.6 367.0 698.9 369.4 701.9 371.6 703.7 376.0 706.6 379.2 708.0 382.2 708.5 387.6 708.1 404.2 705.7 408.2 705.4 409.8 705.5 411.6 705.8 418.8 708.3 422.0 709.0 429.4 708.7 437.6 707.7 439.6 707.0 441.6 705.8 446.6 701.7 450.6 697.8 455.6 690.9 457.6 688.4 462.6 684.1 465.4 682.3 467.2 681.7 469.2 681.7 471.6 682.1 477.2 683.7 480.2 684.0 483.0 683.6 489.4 681.9 492.2 681.6 493.4 681.9 494.8 682.6 498.0 685.2 506.8 694.2 522.2 711.6 524.4 713.8 526.2 715.3 533.0 719.3 537.6 721.3 539.6 721.8 541.4 722.0 543.6 721.9 546.0 721.5 550.8 720.2 558.4 717.6 570.0 711.4 582.8 705.9 588.6 702.7 590.8 701.1 593.4 698.7 602.0 689.3 611.8 679.3 616.2 675.0 622.6 669.5 632.4 662.0 639.0 656.5 642.2 654.3 645.0 653.0 650.4 651.7 654.4 651.4 655.4 651.6 656.6 652.3 659.0 654.5 664.4 661.4 669.0 666.7 677.2 676.9 683.4 683.7 697.0 697.0 711.6 711.9 721.8 721.3 726.8 725.5 730.0 727.7 733.8 729.8 738.4 731.9 743.4 733.9 751.0 736.4 765.4 739.9 775.0 743.1" stroke="#000" stroke-width="2.6"/>
<path d="M105.0 752.6H775.0" stroke="#000080" stroke-width="3.5"/>
<path d="M105.0 749.3H420.0" stroke="#808000" stroke-width="2.5"/>
<path d="M420.0 750.4H775.0" stroke="#008000" stroke-width="2.5"/>
<path d="M104.0 749.0 105.8 748.7 107.0 748.3 108.0 747.7 109.0 746.8 110.8 744.0 114.0 736.9 114.8 735.8 115.4 735.5 116.2 735.8 117.0 736.9 120.2 744.0 122.0 746.8 123.0 747.7 124.0 748.3 125.2 748.7 127.0 749.0" stroke="#000000" stroke-width="2.6"/>
<path d="M102.0 748.4 113.6 747.5 117.8 747.0 121.2 746.2 123.8 745.3 126.0 744.2 127.8 742.8 129.6 740.9 131.0 738.9 132.2 736.7 134.8 730.5 137.6 721.2 141.8 704.2 143.4 698.4 145.0 694.3 145.8 693.2 146.6 692.8 147.4 693.2 148.2 694.3 149.8 698.4 155.8 721.9 158.6 731.0 161.2 737.1 162.6 739.5 164.2 741.6 166.0 743.3 168.2 744.8 170.6 745.8 173.6 746.6 177.6 747.3 182.6 747.8 196.4 748.6" stroke="#FF0000" stroke-width="3.4"/>
<path d="M102.0 748.4 113.2 747.7 121.6 746.7 128.0 745.2 130.6 744.3 132.8 743.3 134.8 742.0 136.6 740.6 138.2 738.9 139.6 737.0 140.8 734.8 141.8 732.3 143.4 726.2 144.6 718.8 145.8 707.7 146.8 694.4 147.8 676.7 149.8 626.3 153.2 516.9 154.2 496.5 154.6 492.4 155.0 491.0 155.4 492.4 155.8 496.5 156.8 516.9 160.2 626.3 162.2 676.7 163.2 694.4 164.4 709.8 165.6 720.2 167.0 728.0 167.8 731.0 168.8 733.8 170.0 736.3 171.2 738.2 172.8 740.0 174.6 741.6 176.6 742.9 179.0 744.1 181.6 745.1 184.4 745.9 191.6 747.1 201.2 748.0 214.4 748.6" stroke="#00FF00" stroke-width="3.8"/>
<path d="M159.0 748.6 173.2 747.8 177.8 747.2 181.0 746.5 183.6 745.5 185.6 744.3 187.4 742.6 189.2 740.1 190.6 737.5 191.8 734.6 194.4 726.2 197.2 713.7 202.0 687.1 203.8 678.3 204.8 674.3 205.8 671.5 206.8 669.8 207.6 669.5 208.4 670.1 209.4 672.0 211.2 678.3 213.0 687.1 217.8 713.7 220.6 726.2 223.2 734.6 224.4 737.5 225.8 740.1 227.6 742.6 229.4 744.3 231.4 745.5 234.0 746.5 237.2 747.2 241.8 747.8 256.0 748.6" stroke="#0000FF" stroke-width="3.4"/>
<path d="M195.0 748.8 198.8 748.3 202.0 747.6 204.8 746.3 207.2 744.8 209.4 742.8 211.6 740.3 218.0 731.3 220.2 728.5 222.4 726.6 223.4 726.2 224.4 726.0 225.4 726.1 226.6 726.6 228.8 728.5 231.0 731.3 237.4 740.3 239.8 743.0 242.0 744.9 244.4 746.5 247.2 747.6 250.2 748.3 254.0 748.8" stroke="#00FFFF" stroke-width="3.4"/>
<path d="M193.0 748.6 201.4 748.1 208.6 747.3 215.0 746.1 221.0 744.5 226.4 742.6 232.0 740.1 248.4 731.1 253.8 728.5 256.8 727.4 259.6 726.6 262.4 726.1 265.0 726.0 267.6 726.1 270.4 726.6 273.2 727.4 276.2 728.5 281.6 731.1 298.0 740.1 303.6 742.6 309.0 744.5 315.0 746.1 321.4 747.3 328.6 748.1 337.0 748.6" stroke="#FF00FF" stroke-width="3.4"/>
<path d="M245.0 748.6 261.0 747.7 266.8 747.1 271.0 746.4 274.2 745.4 276.6 744.2 278.8 742.5 280.6 740.4 282.2 737.8 283.6 734.9 285.0 731.2 286.4 726.7 289.4 714.2 294.4 688.2 296.0 680.8 297.0 677.1 297.8 675.0 298.8 673.3 299.6 673.0 300.4 673.6 301.2 675.0 302.0 677.1 303.0 680.8 304.8 689.2 309.4 713.2 312.4 726.0 313.8 730.6 315.2 734.4 316.8 737.8 318.4 740.4 320.2 742.5 322.4 744.2 324.8 745.4 328.0 746.4 332.2 747.1 338.0 747.7 354.0 748.6" stroke="#FF8000" stroke-width="3.2"/>
<path d="M102.0 748.0 145.6 747.2 178.4 746.0 191.8 745.3 203.6 744.4 214.0 743.3 223.2 742.1 231.6 740.6 239.0 739.0 245.6 737.1 251.6 734.9 257.0 732.4 262.0 729.5 266.4 726.3 270.6 722.5 274.2 718.5 277.6 713.9 280.8 708.7 283.6 703.2 286.2 697.2 288.8 690.1 291.2 682.4 293.4 674.1 295.4 665.5 297.4 655.7 301.2 633.4 304.4 611.0 310.4 564.5 312.8 548.4 314.2 541.0 315.4 536.4 316.6 533.5 317.2 532.7 317.8 532.5 318.4 532.7 319.0 533.5 320.2 536.4 321.4 541.0 322.6 547.2 325.0 563.0 331.4 612.5 334.8 636.0 338.8 658.8 341.0 669.1 343.2 678.0 345.8 687.0 348.4 694.6 351.2 701.5 354.2 707.6 357.4 713.0 361.0 718.0 364.8 722.3 369.0 726.1 373.6 729.5 378.8 732.5 384.6 735.1 391.0 737.4 398.0 739.3 406.0 741.0 415.0 742.5 425.2 743.7 436.6 744.7 449.4 745.6 481.2 747.0 523.8 747.9 582.0 748.5" stroke="#808000" stroke-width="3.2"/>
<path d="M278.0 748.6 294.2 747.8 300.2 747.3 305.2 746.6 309.6 745.7 313.2 744.7 316.4 743.4 319.2 741.8 321.4 740.1 323.4 738.1 325.2 735.8 327.0 732.9 330.0 726.3 335.4 711.2 336.8 708.7 337.4 708.2 338.0 708.0 338.6 708.2 339.2 708.7 340.6 711.2 346.0 726.3 349.0 732.9 350.8 735.8 352.6 738.1 354.6 740.1 356.8 741.8 359.6 743.4 362.8 744.7 366.4 745.7 370.8 746.6 375.8 747.3 381.8 747.8 398.0 748.6" stroke="#000080" stroke-width="3.2"/>
<path d="M344.0 748.7 351.2 748.1 357.6 747.4 363.6 746.3 369.2 745.0 374.6 743.5 380.2 741.5 398.2 733.9 404.6 731.5 408.2 730.5 411.6 729.8 414.8 729.3 418.0 729.2 421.2 729.3 424.4 729.8 427.8 730.5 431.4 731.5 437.8 733.9 455.8 741.5 461.4 743.5 466.8 745.0 472.4 746.3 478.4 747.4 484.8 748.1 492.0 748.7" stroke="#800080" stroke-width="3.2"/>
<path d="M446.0 748.9 448.8 748.5 451.0 747.8 452.8 746.8 454.6 745.1 456.0 743.2 457.6 740.4 462.0 730.4 463.4 727.7 464.8 725.8 466.0 725.3 467.2 725.8 468.6 727.7 470.0 730.4 474.4 740.4 476.0 743.2 477.4 745.1 479.2 746.8 481.0 747.8 483.2 748.5 486.0 748.9" stroke="#800000" stroke-width="3.2"/>
<path d="M420.5 748.6 439.3 747.9 451.5 746.8 455.7 746.1 459.3 745.1 462.3 744.0 465.1 742.5 467.3 740.9 469.5 739.0 471.5 736.8 473.5 734.3 475.7 731.0 478.1 727.0 485.5 712.5 487.9 708.3 489.3 706.3 490.7 704.8 492.1 703.9 493.3 703.7 494.5 703.9 495.9 704.8 497.3 706.3 498.7 708.3 501.1 712.5 508.5 727.0 510.9 731.0 513.1 734.3 515.1 736.8 517.1 739.0 519.3 740.9 521.5 742.5 524.3 744.0 527.3 745.1 530.9 746.1 535.1 746.8 547.1 747.8 565.9 748.6" stroke="#008000" stroke-width="3.4"/>
<path d="M477.0 748.6 490.8 747.9 502.8 746.9 513.6 745.6 524.0 743.8 533.6 741.6 543.6 738.8 553.0 735.7 574.4 728.4 585.2 725.2 591.2 723.8 597.0 722.8 602.6 722.2 608.0 722.0 613.4 722.2 619.0 722.8 624.8 723.8 630.8 725.2 641.6 728.4 663.0 735.8 672.4 738.8 682.4 741.6 692.0 743.8 702.4 745.6 713.2 746.9 725.2 747.9 739.0 748.6" stroke="#008080" stroke-width="3.2"/>
<path d="M548.5 748.7 555.7 748.2 562.1 747.6 567.9 746.7 573.1 745.7 578.1 744.3 582.7 742.8 587.3 740.8 591.7 738.5 595.7 736.1 599.7 733.3 603.7 730.2 607.7 726.7 615.1 719.6 631.7 702.2 636.1 698.1 639.9 694.9 644.5 691.7 648.7 689.6 652.9 688.2 656.9 687.8 661.1 688.2 665.3 689.6 669.5 691.7 674.1 694.9 677.9 698.1 682.3 702.2 698.9 719.6 706.3 726.7 710.5 730.4 714.5 733.5 718.5 736.2 722.5 738.6 726.9 740.9 731.3 742.8 735.9 744.3 740.9 745.7 746.1 746.7 751.9 747.6 758.3 748.2 765.5 748.7" stroke="#0000A0" stroke-width="3.6"/>
<polyline stroke="none" marker-start="url(#m)" marker-mid="url(#m)" marker-end="url(#m)" points="111.2,1064.2 111.8,1068.4 112.9,1068.1 113.2,1063.6 114.5,1062.0 114.9,1059.5 116.1,1056.4 116.4,1051.9 117.6,1056.0 118.8,1053.8 119.7,1048.0 120.9,1050.5 120.8,1047.5 122.6,1048.2 122.1,1052.3 123.0,1049.9 125.0,1041.1 126.1,1046.0 126.8,1042.9 127.3,1040.0 127.7,1038.5 129.4,1035.6 130.5,1029.6 130.3,1027.4 130.1,1029.7 131.5,1024.6 131.8,1022.5 132.2,1019.7 133.4,1013.7 134.5,1008.7 135.1,1011.4 135.8,1007.4 136.5,1002.6 136.1,1000.4 136.7,994.3 137.7,988.2 138.6,981.7 139.2,981.2 139.9,979.4 139.8,972.0 140.0,961.9 140.0,958.2 140.4,955.4 140.7,950.9 141.4,943.8 142.1,940.5 141.6,932.9 144.1,928.2 143.2,919.9 143.8,920.7 144.0,909.9 144.0,898.8 144.7,896.9 144.9,892.5 145.2,891.1 145.8,877.7 146.0,875.3 146.0,871.2 146.1,856.0 146.0,855.6 146.4,848.6 146.4,843.0 147.3,833.5 147.5,828.8 148.6,824.5 148.5,818.4 149.4,813.9 150.1,805.2 150.1,801.7 149.8,797.7 150.9,793.8 151.3,784.9 152.0,788.5 153.4,791.0 153.2,799.3 153.6,798.2 154.2,806.7 154.5,804.9 154.6,817.6 154.9,822.6 155.7,823.4 156.3,825.9 155.1,833.6 156.6,843.8 156.9,851.5 156.9,857.7 156.9,869.3 157.8,870.2 157.9,886.5 158.2,884.8 158.5,894.5 158.2,903.3 159.2,906.0 158.9,913.1 159.1,925.4 159.2,929.1 159.7,933.9 159.4,942.4 159.7,948.9 160.5,953.4 160.7,956.4 160.8,964.1 161.6,970.5 161.9,977.2 162.5,980.4 162.8,985.3 163.7,988.4 163.2,996.2 164.5,999.7 164.9,1000.8 164.8,1008.9 165.8,1009.7 166.5,1011.9 167.4,1018.4 167.1,1022.5 167.3,1028.5 167.5,1032.5 169.1,1036.8 169.6,1037.8 169.2,1042.1 171.2,1050.4 170.5,1057.4 172.4,1058.2 173.4,1061.1 172.8,1059.7 174.0,1066.8 175.6,1063.2 175.9,1059.0 177.0,1063.9 178.5,1069.3 178.7,1067.0 180.2,1067.3 181.2,1070.0 181.4,1071.0 183.4,1066.1 183.8,1073.0 184.3,1075.4 185.8,1073.2 186.0,1073.5 186.8,1073.5 189.5,1069.6 190.2,1069.0 190.5,1073.7 190.8,1072.4 192.1,1069.3 193.8,1070.4 194.6,1070.2 195.5,1074.0 196.3,1068.4 197.2,1070.7 198.4,1062.4 199.1,1069.2 201.5,1065.9 201.0,1064.0 202.1,1061.9 202.8,1066.1 203.4,1065.2 204.8,1069.0 207.0,1071.0 207.2,1066.6 209.3,1062.6 209.9,1061.4 210.5,1059.1 210.8,1062.5 211.8,1057.2 213.0,1061.4 214.7,1063.6 213.8,1062.1 216.4,1061.4 216.6,1058.1 217.7,1059.7 218.7,1061.9 220.4,1060.7 220.9,1061.0 221.9,1067.6 222.4,1062.0 223.6,1065.8 224.3,1067.2 225.7,1068.0 225.9,1068.2 228.2,1063.9 229.6,1066.9 229.0,1063.3 230.2,1064.5 231.5,1067.1 232.5,1065.4 233.1,1060.6 234.3,1062.8 236.1,1059.4 237.2,1058.0 237.5,1065.8 238.1,1062.8 240.0,1062.2 240.6,1065.1 241.9,1061.1 243.3,1063.9 244.1,1060.2 245.2,1063.6 246.0,1061.8 247.0,1063.3 246.7,1069.9 248.3,1063.9 249.5,1061.0 250.4,1064.5 252.1,1064.1 251.8,1063.4 252.9,1067.2 254.8,1063.5 255.6,1060.3 256.2,1065.0 257.3,1062.1 258.0,1058.1 259.2,1057.7 260.1,1059.3 261.6,1052.5 262.0,1052.8 263.7,1052.4 264.3,1055.8 265.0,1049.4 266.9,1053.8 267.3,1056.6 267.4,1050.2 269.7,1057.7 269.4,1051.4 271.2,1050.4 272.3,1051.6 272.5,1050.8 273.2,1051.3 274.0,1050.2 276.4,1040.4 276.9,1039.7 276.8,1047.5 278.3,1042.8 278.8,1040.0 279.6,1037.3 280.1,1032.8 281.9,1034.5 282.8,1035.0 282.9,1028.1 283.3,1029.7 284.2,1027.1 284.0,1025.2 285.8,1023.3 286.7,1018.6 287.2,1025.5 288.0,1018.3 289.0,1017.8 290.0,1022.5 290.6,1019.4 291.8,1015.8 294.2,1013.4 293.8,1004.4 294.5,1010.9 295.7,1011.4 296.1,1007.6 298.0,1009.4 298.6,1012.2 299.6,1011.3 300.0,1011.6 300.6,1017.5 301.9,1018.2 303.0,1014.2 304.8,1016.3 305.1,1016.1 305.7,1016.0 306.3,1014.6 307.5,1019.1 309.1,1029.0 310.1,1021.5 309.8,1026.3 310.0,1032.9 311.9,1031.1 313.3,1033.4 313.0,1034.6 313.7,1036.9 314.1,1038.9 315.4,1038.1 316.2,1040.7 316.3,1044.5 317.9,1049.7 318.8,1049.0 319.6,1047.7 319.8,1048.5 320.9,1044.7 321.8,1051.2 322.9,1057.7 323.5,1059.8 325.1,1060.0 325.2,1059.5 327.0,1064.8 327.7,1056.9 326.8,1067.9 329.2,1067.7 330.1,1064.1 330.9,1065.7 332.3,1069.1 332.0,1065.5 333.9,1071.0 334.4,1070.3 334.6,1067.7 336.4,1065.8 337.3,1073.4 338.4,1074.9 339.9,1074.1 339.5,1069.1 339.8,1074.8 342.3,1070.4 342.9,1073.6 343.6,1076.6 344.8,1073.1 346.1,1076.5 345.8,1079.4 348.5,1076.5 349.5,1073.5 349.6,1082.0 351.4,1080.1 352.3,1077.8 353.1,1082.0 354.2,1080.6 355.2,1081.0 356.0,1075.7 357.0,1077.6 357.5,1080.6 358.9,1076.9 359.5,1081.4 360.5,1080.9 361.8,1081.5 362.5,1081.5 364.0,1077.5 365.1,1078.4 365.9,1083.0 367.1,1078.1 367.3,1078.1 369.0,1081.9 368.8,1083.7 371.3,1080.2 371.7,1082.4 372.2,1080.6 374.0,1080.9 374.7,1082.2 376.6,1082.7 376.9,1080.6 378.4,1082.1 378.7,1085.7 380.4,1079.4 380.6,1085.5 381.5,1086.3 382.6,1087.3 383.2,1076.3 384.0,1087.3 385.4,1080.4 386.4,1079.4 387.8,1081.7 388.4,1079.7 390.4,1083.8 391.2,1084.4 391.6,1083.2 393.6,1078.3 394.4,1073.5 393.8,1076.1 395.2,1077.4 396.5,1082.2 397.4,1078.7 398.1,1075.1 399.6,1077.3 401.2,1079.6 400.8,1081.1 402.1,1077.8 403.2,1076.4 404.4,1075.1 405.4,1077.5 407.1,1080.0 408.6,1073.3 408.5,1081.0 409.2,1076.9 411.1,1081.4 412.0,1077.8 412.6,1078.3 413.8,1077.3 414.4,1075.7 415.3,1072.8 416.3,1073.2 417.4,1073.7 418.0,1075.9 419.9,1079.2 419.5,1070.6 421.2,1071.8 422.7,1071.6 423.3,1075.8 424.6,1068.9 426.2,1079.4 427.3,1072.4 428.4,1072.3 428.5,1072.9 430.4,1072.2 430.6,1067.7 431.8,1068.2 432.7,1067.0 433.3,1067.8 434.4,1066.9 436.3,1071.8 436.4,1066.3 438.1,1068.1 438.8,1071.2 439.3,1069.1 440.6,1066.2 441.3,1065.2 440.6,1065.4 444.1,1069.0 445.6,1065.9 445.6,1063.5 445.8,1062.4 447.4,1066.7 447.2,1066.1 449.6,1066.0 449.5,1064.1 451.3,1059.4 451.6,1069.0 452.8,1061.1 453.2,1060.4 455.8,1062.9 455.7,1061.6 457.3,1062.9 457.7,1062.1 458.8,1059.4 459.7,1058.4 461.4,1055.6 462.3,1068.1 462.7,1059.7 464.1,1064.9 464.5,1062.3 466.1,1066.4 467.1,1066.8 467.7,1062.5 468.6,1060.2 469.5,1061.2 471.9,1061.2 473.3,1067.6 473.2,1063.6 474.1,1061.9 475.2,1064.7 474.9,1064.9 477.1,1065.4 478.0,1065.6 478.6,1069.0 480.5,1065.7 481.1,1064.0 482.3,1065.2 482.6,1070.7 483.3,1068.6 485.0,1067.5 485.6,1072.5 486.5,1067.8 487.2,1069.6 488.4,1072.4 488.6,1070.7 490.5,1075.3 490.7,1068.8 492.9,1071.3 494.0,1071.5 494.1,1071.6 496.0,1073.9 496.5,1072.4 497.9,1073.9 498.5,1074.3 499.5,1069.3 500.9,1075.8 502.1,1072.4 501.8,1073.8 503.1,1067.6 504.5,1070.7 505.4,1071.6 506.8,1075.3 507.7,1076.3 508.1,1079.5 508.6,1075.1 510.9,1072.0 511.5,1069.7 512.2,1073.7 512.8,1067.5 514.2,1070.4 514.9,1072.1 515.7,1075.4 518.0,1072.3 518.1,1071.8 519.4,1069.5 520.1,1072.6 521.0,1069.5 522.2,1068.2 523.5,1067.2 524.9,1072.4 525.4,1072.5 526.9,1068.8 527.4,1068.0 528.2,1068.3 529.4,1070.6 531.5,1069.9 531.9,1068.1 533.2,1068.9 533.3,1067.6 534.4,1067.1 535.5,1072.8 536.4,1065.8 536.5,1067.4 537.9,1065.4 539.5,1068.2 540.6,1070.2 540.9,1065.1 542.0,1063.9 543.1,1064.1 544.7,1063.3 546.5,1060.4 546.8,1061.4 547.2,1062.1 548.4,1066.4 549.2,1062.9 549.9,1062.0 550.9,1062.0 552.3,1065.7 552.9,1057.1 554.0,1064.1 554.6,1062.1 555.5,1056.8 557.1,1054.4 557.7,1051.2 558.3,1058.7 559.4,1055.0 560.9,1053.5 561.0,1054.1 562.5,1054.9 563.4,1057.0 564.7,1052.7 566.5,1048.1 566.5,1049.5 568.3,1051.7 568.6,1051.3 569.9,1048.0 570.6,1044.1 571.4,1051.1 572.5,1049.0 572.1,1046.9 573.8,1050.1 575.1,1047.0 576.5,1045.9 576.1,1041.6 576.7,1046.3 578.6,1038.9 579.9,1040.4 580.4,1044.4 580.5,1036.2 582.4,1038.8 584.0,1037.8 584.6,1042.8 584.7,1033.6 585.9,1036.3 586.7,1036.9 587.8,1038.7 589.4,1036.9 590.2,1035.0 590.2,1033.2 591.1,1036.8 592.4,1030.2 593.7,1038.1 594.3,1036.1 595.8,1038.1 596.6,1029.1 597.7,1028.7 598.3,1031.7 599.5,1031.9 601.0,1031.7 602.4,1031.8 602.2,1032.2 602.5,1031.8 605.3,1025.2 606.3,1022.8 607.2,1026.6 607.5,1027.1 608.4,1029.4 609.7,1027.3 610.7,1026.4 611.2,1029.1 613.1,1024.5 614.1,1031.3 614.8,1032.1 614.6,1032.2 616.3,1029.6 617.2,1035.9 618.5,1031.4 618.9,1029.2 620.8,1030.2 621.2,1034.9 621.7,1031.6 623.3,1030.8 624.7,1032.8 625.3,1034.3 626.3,1034.4 627.9,1034.1 628.3,1032.3 629.9,1037.0 630.4,1035.7 630.7,1035.6 632.2,1032.7 632.5,1036.1 634.9,1037.9 634.2,1040.8 636.3,1039.8 636.5,1038.1 638.8,1041.9 640.9,1034.4 638.9,1038.6 640.1,1038.4 641.9,1044.2 641.9,1042.6 644.0,1042.1 645.2,1045.0 645.2,1042.6 646.7,1039.3 647.5,1045.7 648.8,1043.4 650.8,1045.4 651.1,1041.7 652.2,1043.2 652.5,1043.6 653.0,1046.7 654.0,1047.8 655.2,1049.3 656.8,1049.4 657.1,1048.1 659.0,1047.7 659.5,1045.7 659.0,1049.0 661.0,1045.2 662.8,1041.2 663.2,1050.6 664.6,1048.5 665.2,1050.0 665.8,1048.3 668.0,1047.7 668.5,1049.5 669.0,1045.5 670.2,1049.2 671.1,1051.5 672.7,1053.7 673.8,1049.2 675.3,1053.7 676.0,1049.6 677.1,1059.7 677.8,1056.9 678.3,1054.6 679.6,1056.3 680.7,1055.6 681.1,1052.0 682.6,1062.6 683.1,1057.5 685.2,1054.7 684.8,1057.8 686.6,1054.8 688.3,1059.6 688.6,1054.2 690.2,1061.5 691.0,1063.3 691.1,1056.4 693.0,1060.8 693.6,1058.6 695.1,1061.0 696.0,1057.5 696.6,1062.1 698.1,1056.7 698.5,1059.8 699.6,1061.5 700.8,1064.3 701.7,1062.2 703.0,1066.6 703.6,1060.7 705.5,1065.7 706.7,1062.3 706.4,1063.2 707.6,1059.9 709.0,1060.0 708.2,1064.2 710.1,1065.3 711.0,1061.1 711.6,1061.5 713.5,1071.1 714.9,1063.6 716.3,1066.3 715.7,1061.0 716.9,1064.4 718.6,1064.5 719.3,1063.8 720.7,1068.8 721.1,1070.3 722.2,1066.2 724.4,1068.9 724.6,1062.1 725.6,1066.6 726.5,1070.8 727.3,1072.9 728.6,1068.6 729.4,1068.5 731.3,1069.1 731.1,1066.5 733.2,1070.3 733.2,1068.6 734.6,1070.7 735.1,1069.6 736.0,1067.3 737.5,1073.4 738.6,1074.4 739.8,1073.5 740.5,1065.1 740.5,1069.1 743.5,1070.0 743.4,1072.3 744.4,1069.7 745.7,1072.0 746.3,1068.8 748.4,1068.8 748.2,1070.8 749.5,1072.3 751.4,1075.3 751.6,1072.1 753.1,1071.6 753.7,1069.0 754.8,1072.0 754.9,1073.0 757.7,1073.5 757.2,1076.2 758.8,1073.3 760.4,1075.5 761.6,1070.9 761.4,1073.0 762.7,1070.1 763.7,1069.6 764.3,1073.0 765.7,1074.7 766.2,1074.9 767.8,1073.8 768.6,1072.8 770.5,1078.2 770.7,1078.2 771.2,1073.2 772.4,1076.0 773.4,1072.3 773.9,1071.9 776.1,1076.5 775.9,1080.5 777.4,1074.1 778.5,1075.6 779.4,1075.6 781.0,1078.3 781.3,1075.4 782.2,1074.8 783.6,1075.3 784.9,1073.7 785.8,1078.4 786.4,1075.6 787.9,1075.6 788.4,1077.3 788.4,1078.8 790.7,1078.6 790.9,1075.9 792.8,1078.7 793.3,1076.0 795.4,1078.2 796.2,1073.8 796.8,1076.1 797.4,1081.3 798.1,1075.2 799.3,1077.3 800.6,1079.2 802.2,1079.5 803.5,1081.2 803.9,1078.0 805.3,1077.6 806.1,1078.7 806.3,1080.5 807.9,1079.6 809.1,1079.2 809.2,1079.2 811.5,1076.4 810.7,1079.2 812.1,1083.0 813.7,1076.8 814.6,1076.9 815.8,1082.1 817.2,1082.6 817.6,1083.0 818.8,1076.3 820.3,1077.5 820.3,1075.8 821.2,1074.3 822.0,1078.0 823.0,1079.3 825.0,1079.6 825.8,1083.6 826.3,1084.8 827.6,1080.6 828.8,1084.6 829.0,1083.5 830.4,1081.3 831.1,1074.2 833.2,1083.4 833.1,1078.8 834.0,1081.3 836.6,1081.2 835.8,1083.7 837.2,1077.4 838.8,1081.8 839.7,1083.9"/>
<path d="M111.0 1064.9 125.4 1042.5 127.2 1039.2 128.8 1035.7 130.6 1030.2 132.6 1021.9 134.4 1013.3 136.0 1003.6 137.2 994.3 138.4 982.7 141.4 946.3 145.0 886.0 148.0 826.1 150.2 794.1 150.8 788.6 151.2 786.7 151.4 786.5 151.8 787.0 152.2 788.5 153.2 795.8 155.4 823.0 156.2 840.4 159.0 918.2 160.2 946.7 162.4 979.4 165.2 1008.4 169.8 1043.5 170.8 1049.9 171.6 1053.5 174.2 1060.9 175.6 1063.9 176.8 1065.9 177.8 1067.2 178.8 1068.1 181.4 1069.8 183.8 1071.0 185.6 1071.6 187.4 1072.0 189.0 1072.0 190.6 1071.6 192.8 1070.8 197.6 1068.5 207.2 1064.7 212.0 1062.5 213.8 1061.9 215.2 1061.6 216.4 1061.7 217.8 1062.1 222.4 1065.1 224.4 1065.9 233.2 1066.2 236.2 1065.9 244.6 1063.8 249.4 1062.3 254.8 1060.2 259.8 1057.7 265.4 1054.5 268.4 1052.6 271.2 1050.3 273.0 1048.3 275.2 1045.1 278.8 1038.9 284.4 1027.6 290.0 1017.0 291.4 1015.1 294.6 1011.5 296.0 1010.4 297.4 1010.0 299.0 1010.4 301.0 1012.0 305.0 1016.7 306.2 1018.6 308.0 1022.1 317.2 1042.8 322.4 1054.0 325.2 1058.9 328.8 1063.7 332.6 1067.6 336.2 1070.9 339.2 1073.2 342.0 1075.0 346.0 1076.8 351.0 1078.6 355.4 1079.8 359.4 1080.5 371.6 1081.6 381.4 1081.8 388.8 1081.0 402.6 1078.8 416.6 1075.5 427.6 1072.5 434.2 1070.2 443.6 1065.9 447.4 1064.3 456.6 1061.3 459.4 1060.7 461.8 1060.4 465.0 1060.6 468.8 1061.7 478.6 1065.9 486.2 1069.8 489.6 1070.9 498.6 1072.3 506.4 1072.9 512.0 1072.9 517.4 1072.1 529.6 1069.1 544.0 1066.3 547.8 1065.2 550.8 1064.2 554.2 1061.9 562.0 1055.0 581.2 1040.5 585.4 1037.5 591.6 1033.6 595.8 1031.2 599.2 1029.7 605.6 1028.0 610.0 1027.5 613.6 1028.0 618.0 1029.5 627.8 1033.7 639.0 1039.6 647.2 1042.9 680.6 1054.9 694.8 1060.3 699.6 1061.9 706.2 1063.6 718.2 1066.1 731.4 1068.6 747.8 1071.2 768.0 1074.1 796.6 1077.6 840.0 1082.0" stroke="#000" stroke-width="2.6"/>
<path d="M111.0 1088.0H500.0" stroke="#808000" stroke-width="3.5"/>
<path d="M400.0 1088.8H840.0" stroke="#FF00FF" stroke-width="3.0"/>
<path d="M660.0 1085.6H840.0" stroke="#FF8000" stroke-width="2.5"/>
<path d="M111.0 1067.8 116.2 1060.3 126.4 1043.7 130.6 1037.9 133.2 1035.1 135.8 1033.2 138.2 1032.2 140.6 1032.2 142.4 1032.8 144.4 1034.0 146.4 1035.7 148.4 1037.9 152.6 1043.7 162.6 1060.0 167.6 1067.3 170.4 1070.9 173.0 1073.8 175.8 1076.4 178.6 1078.7 181.8 1080.7 185.0 1082.3 188.6 1083.6 192.6 1084.6 197.0 1085.4 202.0 1085.9 216.4 1086.6" stroke="#000000" stroke-width="3.0"/>
<path d="M193.0 1086.9 195.4 1086.5 197.6 1086.0 199.4 1085.3 201.2 1084.3 204.6 1081.5 211.4 1074.2 213.2 1072.9 215.0 1072.5 216.8 1072.9 218.6 1074.2 225.4 1081.5 228.8 1084.3 230.6 1085.3 232.4 1086.0 234.6 1086.5 237.0 1086.9" stroke="#00FF00" stroke-width="3.4"/>
<path d="M218.5 1086.8 225.5 1085.9 231.5 1084.4 237.1 1082.1 249.1 1076.0 252.5 1074.9 255.7 1074.5 258.9 1074.8 262.3 1075.9 265.5 1077.4 274.5 1082.1 280.3 1084.4 286.1 1085.9 292.9 1086.8" stroke="#0000FF" stroke-width="3.4"/>
<path d="M400.0 1086.7 407.2 1086.2 413.4 1085.4 419.0 1084.3 424.2 1082.7 429.0 1080.9 433.8 1078.5 448.0 1070.1 452.8 1067.6 457.8 1065.8 460.2 1065.4 462.6 1065.2 465.0 1065.3 467.4 1065.8 470.0 1066.6 472.6 1067.6 477.4 1070.1 491.6 1078.5 496.4 1080.9 501.2 1082.7 506.4 1084.3 512.0 1085.4 518.2 1086.2 525.4 1086.7" stroke="#FF00FF" stroke-width="3.6"/>
<path d="M509.0 1086.7 519.6 1085.8 528.6 1084.5 536.8 1082.6 544.4 1080.0 551.4 1076.9 558.6 1072.9 565.4 1068.6 580.8 1057.9 588.6 1053.3 593.0 1051.3 597.0 1049.9 601.0 1049.1 605.0 1048.8 609.0 1049.1 613.0 1049.9 617.0 1051.3 621.4 1053.3 629.2 1057.9 644.6 1068.6 651.4 1072.9 658.6 1076.9 665.6 1080.0 673.2 1082.6 681.4 1084.5 690.4 1085.8 701.0 1086.7" stroke="#FF8000" stroke-width="3.4"/>
<path d="M443.0 1086.6 462.0 1085.9 479.2 1085.0 495.6 1083.8 511.4 1082.3 527.0 1080.4 543.2 1078.1 596.2 1069.2 616.2 1066.3 627.6 1065.0 638.2 1064.1 648.6 1063.5 658.8 1063.3 668.8 1063.4 678.8 1063.9 689.0 1064.7 699.8 1065.8 720.4 1068.7 766.8 1076.5 789.2 1079.9 814.4 1082.9 840.0 1084.9" stroke="#808000" stroke-width="3.6"/>
<path d="M166.0 1086.5 204.8 1085.6 219.0 1084.9 230.4 1084.1 239.4 1083.0 246.4 1081.7 252.2 1080.0 257.0 1077.8 261.0 1075.3 264.8 1072.1 268.2 1068.4 271.6 1063.7 275.0 1058.1 278.4 1051.4 288.2 1029.2 291.4 1022.6 293.2 1019.7 295.0 1017.5 296.6 1016.3 298.2 1015.8 299.8 1016.2 301.4 1017.3 303.2 1019.4 305.0 1022.3 308.2 1028.7 315.2 1044.9 318.4 1051.9 321.8 1058.4 325.2 1064.0 328.6 1068.6 332.0 1072.3 335.6 1075.3 339.6 1077.8 344.4 1080.0 350.2 1081.7 357.2 1083.0 366.0 1084.0 377.4 1084.9 391.6 1085.6 430.4 1086.5" stroke="#00FFFF" stroke-width="4.4"/>
<path d="M111.0 1085.1 118.2 1084.1 123.8 1082.7 128.2 1080.9 130.0 1079.8 131.6 1078.5 132.8 1077.3 134.0 1075.6 135.8 1071.8 137.2 1067.1 138.6 1060.1 139.8 1051.3 140.8 1041.7 142.8 1014.3 145.0 970.7 149.8 854.3 151.2 833.4 151.8 829.1 152.2 828.0 152.4 828.0 153.0 830.2 153.6 835.5 154.8 854.3 159.6 970.7 162.0 1017.6 163.2 1034.6 164.6 1049.6 166.0 1060.1 167.6 1067.9 169.4 1073.3 170.6 1075.6 171.8 1077.3 173.2 1078.7 175.0 1080.1 177.2 1081.3 179.6 1082.3 185.8 1084.0 193.8 1085.2 204.4 1086.0 219.0 1086.6" stroke="#FF0000" stroke-width="4.4"/>
</g>
<rect x="74.1" y="5.8" width="763.2" height="1143.7" fill="none" stroke="#000" stroke-width="2.5"/>
<path d="M96.2 1149.5V1165.0" stroke="#000" stroke-width="2.3"/><path d="M210.4 1149.5V1158.0" stroke="#000" stroke-width="2.3"/><path d="M324.6 1149.5V1165.0" stroke="#000" stroke-width="2.3"/><path d="M438.7 1149.5V1158.0" stroke="#000" stroke-width="2.3"/><path d="M552.9 1149.5V1165.0" stroke="#000" stroke-width="2.3"/><path d="M667.1 1149.5V1158.0" stroke="#000" stroke-width="2.3"/><path d="M781.3 1149.5V1165.0" stroke="#000" stroke-width="2.3"/>
<text class="s" x="95.7" y="1210.2" font-size="46" text-anchor="middle">200</text>
<text class="s" x="324.1" y="1210.2" font-size="46" text-anchor="middle">400</text>
<text class="s" x="552.4" y="1210.2" font-size="46" text-anchor="middle">600</text>
<text class="s" x="780.8" y="1210.2" font-size="46" text-anchor="middle">800</text>
<text class="s" x="276" y="1267.5" font-size="46">Wavenumber (cm</text>
<text class="s" x="637" y="1242" font-size="25">-1</text>
<text class="s" x="663" y="1267.5" font-size="46">)</text>
<text class="s" transform="translate(36.8,737.3) rotate(-90)" font-size="46">Intensity (a.u.)</text>
<text class="t" text-anchor="middle" transform="translate(129.3,322.5) rotate(-90)">241</text>
<text class="t" text-anchor="middle" transform="translate(168.3,250.0) rotate(-90)">248</text>
<text class="t" text-anchor="middle" transform="translate(226.8,224.8) rotate(-90)">297</text>
<text class="t" text-anchor="middle" transform="translate(266.8,281.7) rotate(-90)">335</text>
<text class="t" text-anchor="middle" transform="translate(283.2,178.7) rotate(-90)">375</text>
<text class="t" text-anchor="middle" transform="translate(333.8,65.2) rotate(-90)">391</text>
<text class="t" text-anchor="middle" transform="translate(376.8,182.4) rotate(-90)">415</text>
<text class="t" text-anchor="middle" transform="translate(427.8,291.0) rotate(-90)">478</text>
<text class="t" text-anchor="middle" transform="translate(471.8,292.8) rotate(-90)">515</text>
<text class="t" text-anchor="middle" transform="translate(512.4,276.0) rotate(-90)">546</text>
<text class="t" text-anchor="middle" transform="translate(610.3,262.6) rotate(-90)">641</text>
<text class="t" text-anchor="middle" transform="translate(663.5,186.0) rotate(-90)">682</text>
<text class="t" text-anchor="middle" transform="translate(707.8,192.0) rotate(-90)">720</text>
<text class="t" text-anchor="middle" transform="translate(122.4,486.2) rotate(-90)">251</text>
<text class="t" text-anchor="middle" transform="translate(130.5,637.0) rotate(-90)">241</text>
<text class="t" text-anchor="middle" transform="translate(228.0,591.8) rotate(-90)">297</text>
<text class="t" text-anchor="middle" transform="translate(280.4,579.0) rotate(-90)">378</text>
<text class="t" text-anchor="middle" transform="translate(375.6,481.2) rotate(-90)">394</text>
<text class="t" text-anchor="middle" transform="translate(393.8,604.2) rotate(-90)">411</text>
<text class="t" text-anchor="middle" transform="translate(439.7,652.6) rotate(-90)">481</text>
<text class="t" text-anchor="middle" transform="translate(480.7,626.5) rotate(-90)">524</text>
<text class="t" text-anchor="middle" transform="translate(519.8,632.4) rotate(-90)">548</text>
<text class="t" text-anchor="middle" transform="translate(624.3,627.5) rotate(-90)">651</text>
<text class="t" text-anchor="middle" transform="translate(675.5,600.3) rotate(-90)">692</text>
<text class="t" text-anchor="middle" transform="translate(125.0,805.0) rotate(-90)">248</text>
<text class="t" text-anchor="middle" transform="translate(235.8,1015.8) rotate(-90)">305</text>
<text class="t" text-anchor="middle" transform="translate(274.8,1002.0) rotate(-90)">339</text>
<text class="t" text-anchor="middle" transform="translate(317.3,964.0) rotate(-90)">377</text>
<text class="t" text-anchor="middle" transform="translate(485.8,1010.6) rotate(-90)">521</text>
<text class="t" text-anchor="middle" transform="translate(622.2,966.6) rotate(-90)">646</text>
<text class="t" text-anchor="middle" transform="translate(698.8,1000.7) rotate(-90)">694</text>
<text class="t" x="188.7" y="471.5">311</text>
<text class="t" x="191.9" y="813.5">311</text>
<text class="t" x="280.5" y="811.5">348</text>
<text class="t" x="771.8" y="386.0">(a)</text>
<text class="t" x="770.6" y="724.5">(b)</text>
<text class="t" x="774.0" y="1061.5">(c)</text>
<path d="M112.3 356.0L125.6 381.8" stroke="#FF0000" stroke-width="2.4"/><path d="M133.0 396.0L120.3 382.3L126.2 382.9L129.2 377.7Z" fill="#FF0000"/>
<path d="M271.3 224.0L295.4 347.0" stroke="#FF8000" stroke-width="2.4"/><path d="M298.5 362.7L290.1 346.0L295.7 348.2L299.9 344.1Z" fill="#FF8000"/>
<path d="M227.4 430.9L218.3 408.6" stroke="#00FFFF" stroke-width="2.4"/><path d="M212.2 393.8L223.7 408.6L217.8 407.5L214.4 412.4Z" fill="#00FFFF"/>
<path d="M115.0 671.0L128.5 698.6" stroke="#FF0000" stroke-width="2.4"/><path d="M135.5 713.0L123.1 699.0L129.0 699.7L132.1 694.6Z" fill="#FF0000"/>
<path d="M121.6 506.0L136.3 517.3" stroke="#00FF00" stroke-width="2.4"/><path d="M149.0 527.0L131.7 520.0L137.3 518.0L137.8 512.1Z" fill="#00FF00"/>
<path d="M232.4 773.5L223.7 752.8" stroke="#00FFFF" stroke-width="2.4"/><path d="M217.5 738.0L229.1 752.7L223.2 751.6L219.9 756.5Z" fill="#00FFFF"/>
<path d="M305.2 776.7L295.7 751.0" stroke="#FF00FF" stroke-width="2.4"/><path d="M290.2 736.0L301.1 751.2L295.3 749.8L291.7 754.6Z" fill="#FF00FF"/>
<path d="M266.8 619.8L286.4 659.2" stroke="#FF8000" stroke-width="2.4"/><path d="M293.5 673.5L281.0 659.6L286.9 660.3L290.0 655.2Z" fill="#FF8000"/>
<path d="M349.2 519.2L334.4 532.2" stroke="#808000" stroke-width="2.4"/><path d="M322.4 542.7L332.6 527.1L333.5 533.0L339.2 534.6Z" fill="#808000"/>
<path d="M371.6 645.5L350.0 699.2" stroke="#000080" stroke-width="2.4"/><path d="M344.0 714.0L346.1 695.4L349.5 700.3L355.4 699.2Z" fill="#000080"/>
<path d="M125.0 825.6L135.8 835.0" stroke="#FF0000" stroke-width="2.4"/><path d="M147.8 845.6L131.0 837.5L136.7 835.9L137.6 830.0Z" fill="#FF0000"/>
<path d="M394.3 87.5 L454.3 87.5 L471.6 95 L491.6 113.2 L516.5 116.8 L537 125.5 L560 128.8 L575 131 L615 131.5 L656.2 127.9 L674.9 117.4 L699.9 113.7 L722.3 95 L737.3 87.2 L797.2 87.2" fill="none" stroke="#000" stroke-width="4.2" stroke-linejoin="round"/>
<path d="M430.3 54.0L430.3 72.5" stroke="#000" stroke-width="3.0"/><path d="M430.3 85.5L424.3 70.5L430.3 73.2L436.3 70.5Z" fill="#000"/>
<path d="M509.0 81.3L509.0 99.2" stroke="#000" stroke-width="3.0"/><path d="M509.0 112.2L503.0 97.2L509.0 99.9L515.0 97.2Z" fill="#000"/>
<path d="M597.5 98.5L597.5 116.9" stroke="#000" stroke-width="3.0"/><path d="M597.5 129.9L591.5 114.9L597.5 117.6L603.5 114.9Z" fill="#000"/>
<text x="418" y="46.5" font-family="Liberation Serif" font-weight="bold" font-size="46">c</text>
<text x="496.5" y="74.5" font-family="Liberation Serif" font-weight="bold" font-size="44">b</text>
<text x="585" y="91" font-family="Liberation Serif" font-weight="bold" font-size="44">a</text>
</svg></body></html>
